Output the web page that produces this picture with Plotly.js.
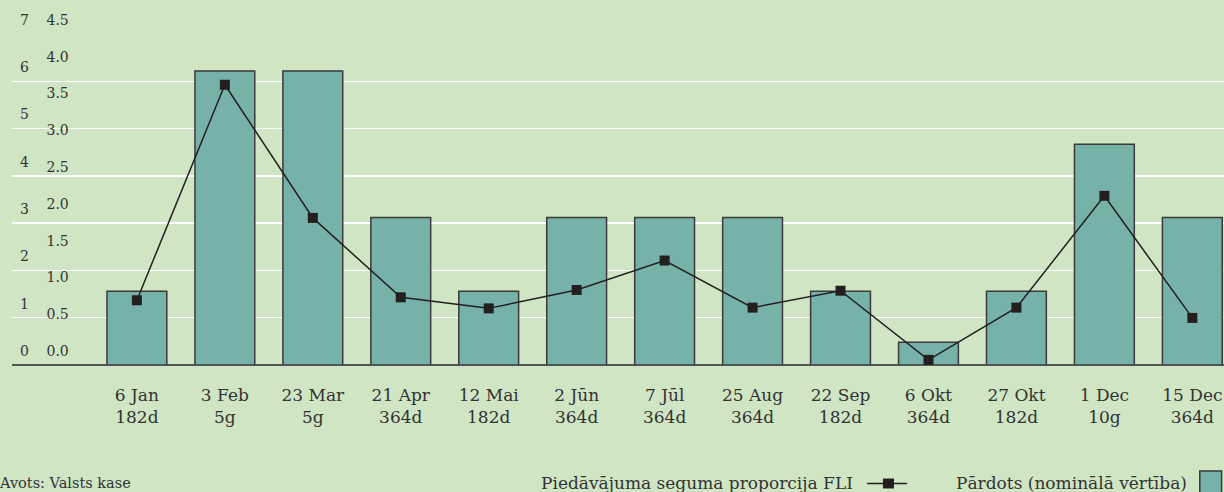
<!DOCTYPE html>
<html>
<head>
<meta charset="utf-8">
<script src="https://cdn.plot.ly/plotly-3.0.1.min.js"></script>
<style>
html,body{margin:0;padding:0;background:#cfe5c3;}
#chart{width:1224px;height:492px;}
</style>
</head>
<body>
<div id="chart"></div>
<script>
const categories = ["6 Jan<br>182d","3 Feb<br>5g","23 Mar<br>5g","21 Apr<br>364d","12 Mai<br>182d","2 Jūn<br>364d","7 Jūl<br>364d","25 Aug<br>364d","22 Sep<br>182d","6 Okt<br>364d","27 Okt<br>182d","1 Dec<br>10g","15 Dec<br>364d"];
const soldValues = [1.56, 6.22, 6.22, 3.12, 1.56, 3.12, 3.12, 3.12, 1.56, 0.48, 1.56, 4.67, 3.12];
const coverRatio = [0.88, 3.81, 2.0, 0.92, 0.77, 1.02, 1.42, 0.78, 1.01, 0.07, 0.78, 2.30, 0.64];
const leftTicks = [0,1,2,3,4,5,6,7];
const rightTicks = [0,0.5,1,1.5,2,2.5,3,3.5,4,4.5];
const rightTickText = ["0.0","0.5","1.0","1.5","2.0","2.5","3.0","3.5","4.0","4.5"];
const sourceText = "Avots: Valsts kase";
const lineName = "Piedāvājuma seguma proporcija FLI";
const barName = "Pārdots (nominālā vērtība)";

const BG = "#cfe5c3";
const BAR = "#77b2aa";
const INK = "#231f20";
const TXT = "#333333";
const FONT = "'DejaVu Serif', 'Liberation Serif', serif";

const xIdx = categories.map((c,i)=>i);

const traces = [
  {
    type: "bar", x: xIdx, y: soldValues, name: barName,
    marker: {color: BAR, line: {color: "#3a3a3a", width: 1.5}},
    width: 0.68, yaxis: "y", showlegend: false, hoverinfo: "y"
  },
  {
    type: "scatter", mode: "lines+markers", x: xIdx, y: coverRatio, name: lineName,
    line: {color: INK, width: 1.5},
    marker: {symbol: "square", size: 10, color: INK},
    yaxis: "y2", showlegend: false, hoverinfo: "y"
  }
];

const layout = {
  width: 1224, height: 492,
  paper_bgcolor: BG, plot_bgcolor: BG,
  margin: {l: 12, r: 0, t: 34, b: 127},
  font: {family: FONT, color: TXT, size: 14},
  showlegend: false,
  xaxis: {
    range: [-1.42, 12.36],
    tickmode: "array", tickvals: xIdx, ticktext: categories,
    showgrid: false, zeroline: false, showline: false,
    ticks: "", ticklabelstandoff: 18,
    tickfont: {family: FONT, size: 17, color: TXT},
    fixedrange: true
  },
  yaxis: {
    range: [0, 7],
    side: "right", anchor: "free", position: 0,
    tickmode: "array", tickvals: leftTicks,
    showgrid: true, gridcolor: "#ffffff", gridwidth: 1.5,
    zeroline: true, zerolinecolor: "#555555", zerolinewidth: 1.5,
    showline: false, ticks: "",
    ticklabelshift: -14, ticklabelstandoff: 7,
    tickfont: {family: FONT, size: 14, color: TXT},
    fixedrange: true
  },
  yaxis2: {
    range: [0, 4.5],
    overlaying: "y", side: "right", anchor: "free", position: 0.026,
    tickmode: "array", tickvals: rightTicks, ticktext: rightTickText,
    showgrid: false, zeroline: false, showline: false, ticks: "",
    ticklabelshift: -14, ticklabelstandoff: 2,
    tickfont: {family: FONT, size: 14, color: TXT},
    fixedrange: true
  },
  annotations: [
    {xref: "paper", yref: "paper", x: -0.0125, y: -0.355, xanchor: "left", yanchor: "middle",
     text: sourceText, showarrow: false, font: {family: FONT, size: 14.5, color: TXT}},
    {xref: "paper", yref: "paper", x: 0.6955, y: -0.355, xanchor: "right", yanchor: "middle",
     text: lineName, showarrow: false, font: {family: FONT, size: 17, color: TXT}},
    {xref: "paper", yref: "paper", x: 0.9715, y: -0.355, xanchor: "right", yanchor: "middle",
     text: barName, showarrow: false, font: {family: FONT, size: 17, color: TXT}}
  ],
  shapes: [
    {type: "line", xref: "paper", yref: "paper", x0: 0.7055, x1: 0.7385, y0: -0.358, y1: -0.358,
     line: {color: INK, width: 1.5}},
    {type: "rect", xref: "paper", yref: "paper", x0: 0.7186, x1: 0.7277, y0: -0.343, y1: -0.373,
     fillcolor: INK, line: {width: 0}},
    {type: "rect", xref: "paper", yref: "paper", x0: 0.980, x1: 0.998, y0: -0.320, y1: -0.390,
     fillcolor: BAR, line: {color: "#3a3a3a", width: 1.5}}
  ]
};

Plotly.newPlot("chart", traces, layout, {displayModeBar: false, staticPlot: true});
</script>
</body>
</html>
